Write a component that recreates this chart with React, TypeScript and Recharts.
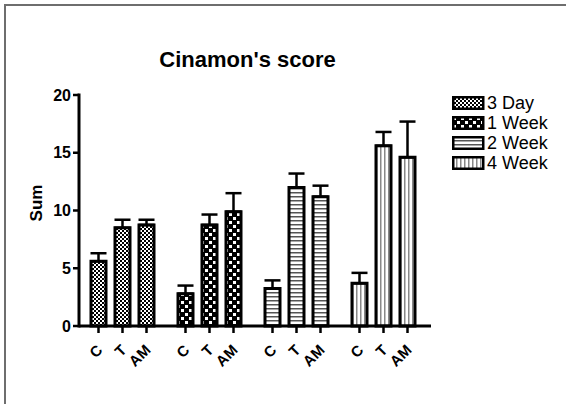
import React from 'react';
import { BarChart, Bar, XAxis, YAxis, ErrorBar, Cell, LabelList } from 'recharts';

const periods = ['3 Day', '1 Week', '2 Week', '4 Week'];
const treatments = ['C', 'T', 'AM'];

// mean score per period, one array per treatment
const cScores = [5.6, 2.8, 3.25, 3.7];
const tScores = [8.5, 8.75, 12.0, 15.6];
const amScores = [8.75, 9.9, 11.2, 14.6];

// upper error (SEM), drawn above the bar only
const cSem = [0.7, 0.7, 0.7, 0.9];
const tSem = [0.7, 0.9, 1.2, 1.2];
const amSem = [0.45, 1.6, 0.95, 3.1];

const yTicks = [0, 5, 10, 15, 20];
const patternIds = ['fill3d', 'fill1w', 'fill2w', 'fill4w'];

const data = periods.map((period, i) => ({
  period,
  C: cScores[i],
  T: tScores[i],
  AM: amScores[i],
  errC: [0, cSem[i]],
  errT: [0, tSem[i]],
  errAM: [0, amSem[i]],
}));

const FONT = 'Arial, "Liberation Sans", sans-serif';

// tick mark + slanted treatment name under each bar
function TreatmentTick(props: any) {
  const vb = props.viewBox ?? props;
  const cx = vb.x + vb.width / 2;
  const base = vb.y + vb.height;
  const tx = cx + 5;
  const ty = base + 25;
  return (
    <g>
      <line x1={cx} y1={base} x2={cx} y2={base + 7} stroke="#000" strokeWidth={2.5} />
      <text
        x={tx}
        y={ty}
        transform={`rotate(-45 ${tx} ${ty})`}
        textAnchor="end"
        fontSize={15}
        fontWeight="bold"
        fontFamily={FONT}
        fill="#000"
      >
        {props.label}
      </text>
    </g>
  );
}

function Patterns() {
  return (
    <svg width={0} height={0} style={{ position: 'absolute' }}>
      <defs>
        <pattern id="fill3d" width={4} height={4} patternUnits="userSpaceOnUse">
          <rect width={4} height={4} fill="#fff" />
          <rect width={2} height={2} fill="#000" />
          <rect x={2} y={2} width={2} height={2} fill="#000" />
        </pattern>
        <pattern id="fill1w" width={8} height={8} patternUnits="userSpaceOnUse">
          <rect width={8} height={8} fill="#000" />
          <rect x={1} y={1} width={3} height={3} fill="#fff" />
          <rect x={5} y={5} width={3} height={3} fill="#fff" />
        </pattern>
        <pattern id="fill2w" width={4} height={4} patternUnits="userSpaceOnUse">
          <rect width={4} height={4} fill="#fff" />
          <rect width={4} height={1.5} fill="#555" />
        </pattern>
        <pattern id="fill4w" width={4} height={4} patternUnits="userSpaceOnUse">
          <rect width={4} height={4} fill="#fff" />
          <rect width={1.5} height={4} fill="#888" />
        </pattern>
      </defs>
    </svg>
  );
}

export default function App() {
  const series = [
    { key: 'C', err: 'errC' },
    { key: 'T', err: 'errT' },
    { key: 'AM', err: 'errAM' },
  ];

  return (
    <div style={{ position: 'relative', width: 566, height: 404, background: '#fff', fontFamily: FONT, overflow: 'hidden' }}>
      <style>{'body{margin:0}'}</style>
      <Patterns />

      {/* frame */}
      <div
        style={{
          position: 'absolute',
          left: 4,
          top: 4,
          right: 0,
          bottom: 0,
          borderTop: '2px solid #6e6e6e',
          borderLeft: '2px solid #6e6e6e',
        }}
      />

      <div
        style={{
          position: 'absolute',
          left: 0,
          top: 49,
          width: 495,
          textAlign: 'center',
          fontSize: 22,
          lineHeight: '22px',
          fontWeight: 'bold',
          color: '#000',
        }}
      >
        Cinamon's score
      </div>

      <div
        style={{
          position: 'absolute',
          left: 37,
          top: 203,
          transform: 'translate(-50%, -50%) rotate(-90deg)',
          fontSize: 17,
          fontWeight: 'bold',
          color: '#000',
          whiteSpace: 'nowrap',
        }}
      >
        Sum
      </div>

      <div style={{ position: 'absolute', left: 0, top: 0 }}>
        <BarChart width={566} height={404} data={data} margin={{ top: 95, right: 135, bottom: 48, left: 29 }} barGap={9}>
          <XAxis
            dataKey="period"
            height={30}
            tick={false}
            tickLine={false}
            axisLine={{ stroke: '#000', strokeWidth: 3 }}
            padding={{ left: 0, right: 4 }}
          />
          <YAxis
            width={50}
            domain={[0, 20]}
            ticks={yTicks}
            tickSize={6}
            tickMargin={2}
            tickLine={{ stroke: '#000', strokeWidth: 2.5 }}
            axisLine={{ stroke: '#000', strokeWidth: 3, strokeLinecap: 'square' }}
            tick={{ fill: '#000', fontSize: 16, fontWeight: 'bold', fontFamily: FONT }}
          />
          {series.map((s, si) => (
            <Bar
              key={s.key}
              dataKey={s.key}
              barSize={15}
              stroke="#000"
              strokeWidth={3}
              isAnimationActive={false}
            >
              {data.map((_, i) => (
                <Cell key={i} fill={`url(#${patternIds[i]})`} />
              ))}
              <ErrorBar dataKey={s.err} direction="y" width={8} stroke="#000" strokeWidth={2.5} />
              <LabelList dataKey={s.key} content={(p: any) => <TreatmentTick {...p} label={treatments[si]} />} />
            </Bar>
          ))}
        </BarChart>
      </div>

      {/* legend */}
      <div style={{ position: 'absolute', left: 452, top: 93 }}>
        {periods.map((p, i) => (
          <div key={p} style={{ display: 'flex', alignItems: 'center', height: 20 }}>
            <svg width={33} height={14} style={{ flexShrink: 0 }}>
              <rect x={1.25} y={1.25} width={30} height={11.5} fill={`url(#${patternIds[i]})`} stroke="#000" strokeWidth={2.5} />
            </svg>
            <span style={{ fontSize: 18, color: '#000', marginLeft: 2, whiteSpace: 'nowrap' }}>{p}</span>
          </div>
        ))}
      </div>
    </div>
  );
}
